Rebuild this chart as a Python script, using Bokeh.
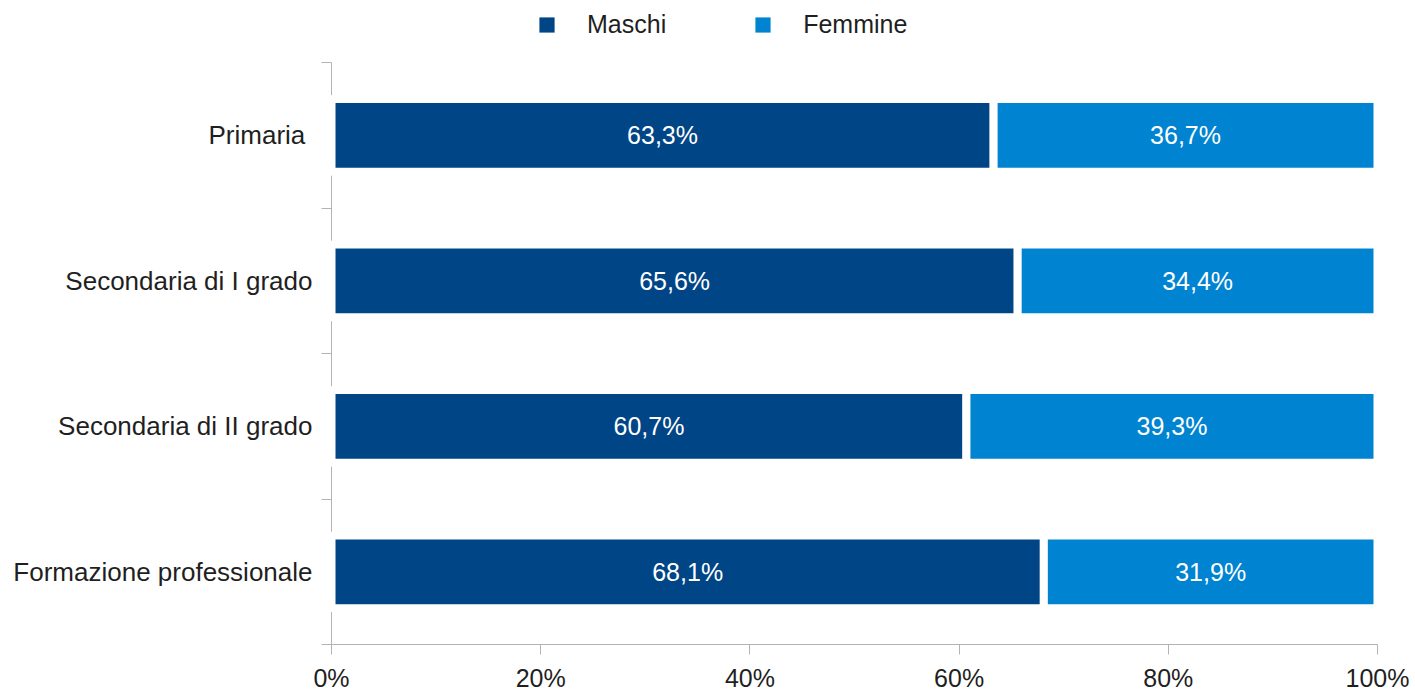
from bokeh.plotting import figure
from bokeh.layouts import column
from bokeh.models import (Range1d, FixedTicker, Legend, LegendItem, ColumnDataSource)
from bokeh.core.properties import value
from bokeh.embed import file_html
from bokeh.resources import INLINE

# ---- data ----
categories = ["Primaria ", "Secondaria di I grado", "Secondaria di II grado", "Formazione professionale"]
maschi = [63.3, 65.6, 60.7, 68.1]
femmine = [36.7, 34.4, 39.3, 31.9]
series_names = ["Maschi", "Femmine"]
x_ticks = [0, 20, 40, 60, 80, 100]
x_tick_labels = ["0%", "20%", "40%", "60%", "80%", "100%"]

# ---- style ----
FONT = "Liberation Sans"
C_M = "#004586"
C_F = "#0084d1"
AXIS_C = "#b3b3b3"
TXT_C = "#1f1f1f"
W = 1415

n = len(categories)
pos = [n - i - 0.5 for i in range(n)]
ends = [a + b for a, b in zip(maschi, femmine)]

src = ColumnDataSource(dict(
    y=pos, m=maschi, f=femmine, end=ends,
    m_mid=[a / 2 for a in maschi],
    f_mid=[a + b / 2 for a, b in zip(maschi, femmine)],
    m_lab=[f"{v:.1f}%".replace(".", ",") for v in maschi],
    f_lab=[f"{v:.1f}%".replace(".", ",") for v in femmine],
))

# ---- legend strip ----
pl = figure(width=W, height=62, x_range=Range1d(0, 100), y_range=Range1d(0, n),
            output_backend="svg", toolbar_location=None, min_border=0)
pl.axis.visible = False
pl.xgrid.visible = False
pl.ygrid.visible = False
pl.outline_line_color = None
d1 = pl.hbar(y="y", left=0, right="m", height=0.5, fill_color=C_M, line_alpha=0,
             source=src, visible=False)
d2 = pl.hbar(y="y", left="m", right="end", height=0.5, fill_color=C_F, line_alpha=0,
             source=src, visible=False)
legend = Legend(items=[LegendItem(label=series_names[0], renderers=[d1]),
                       LegendItem(label=series_names[1], renderers=[d2])],
                orientation="horizontal", location=(206, 23),
                glyph_width=19, glyph_height=19, label_standoff=31, spacing=87,
                padding=0, margin=0, border_line_alpha=0, background_fill_alpha=0,
                inactive_fill_alpha=0,
                label_text_font=FONT, label_text_font_size="25px", label_text_color=TXT_C)
pl.add_layout(legend)

# ---- main chart ----
p = figure(width=W, height=632, x_range=Range1d(0, 100), y_range=Range1d(0, n),
           output_backend="svg", toolbar_location=None,
           min_border_left=331, min_border_right=38, min_border_top=0, min_border_bottom=47)
p.outline_line_color = None
p.xgrid.visible = False
p.ygrid.visible = False

r1 = p.hbar(y="y", left=0, right="m", height=0.5, fill_color=C_M, line_color="white",
            line_width=8, source=src)
r2 = p.hbar(y="y", left="m", right="end", height=0.5, fill_color=C_F, line_color="white",
            line_width=8, source=src)
t1 = p.text(x="m_mid", y="y", text="m_lab", source=src, text_align="center",
            text_baseline="middle", text_color="white", text_font=value(FONT),
            text_font_size="25px")
t2 = p.text(x="f_mid", y="y", text="f_lab", source=src, text_align="center",
            text_baseline="middle", text_color="white", text_font=value(FONT),
            text_font_size="25px")
for r in (r1, r2, t1, t2):
    r.level = "overlay"

# x axis
xa = p.xaxis[0]
xa.ticker = FixedTicker(ticks=x_ticks)
xa.major_label_overrides = {t: l for t, l in zip(x_ticks, x_tick_labels)}
xa.axis_line_color = AXIS_C
xa.major_tick_line_color = AXIS_C
xa.major_tick_out = 10
xa.major_tick_in = 0
xa.minor_tick_line_color = None
xa.major_label_standoff = 9
xa.major_label_text_font = FONT
xa.major_label_text_font_size = "25px"
xa.major_label_text_color = TXT_C

# y axis
ya = p.yaxis[0]
ya.ticker = FixedTicker(ticks=pos, minor_ticks=list(range(n + 1)))
ya.major_label_overrides = {t: c for t, c in zip(pos, categories)}
ya.axis_line_color = AXIS_C
ya.major_tick_line_color = None
ya.major_tick_out = 0
ya.major_tick_in = 0
ya.minor_tick_line_color = AXIS_C
ya.minor_tick_out = 10
ya.minor_tick_in = 0
ya.major_label_standoff = 9
ya.major_label_text_font = FONT
ya.major_label_text_font_size = "26px"
ya.major_label_text_color = TXT_C

layout = column(pl, p, spacing=0)
open("out.html", "w").write(file_html(layout, INLINE))
